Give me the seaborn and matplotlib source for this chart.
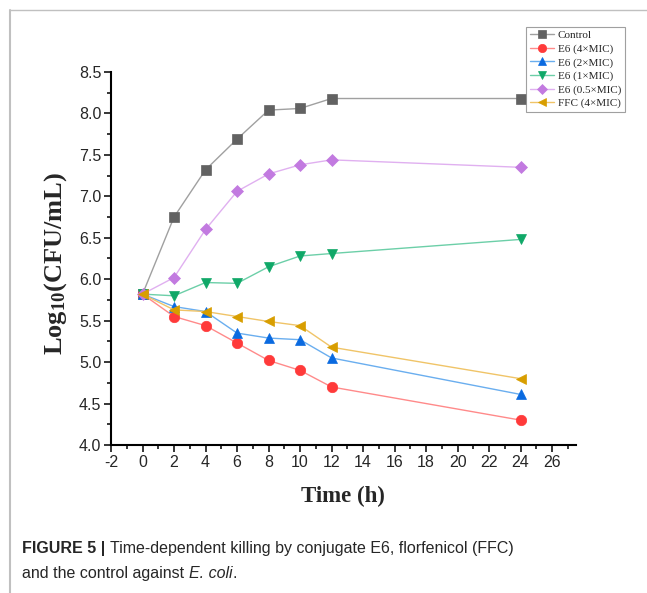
import numpy as np
import pandas as pd
import matplotlib
matplotlib.use("Agg")
import matplotlib.pyplot as plt
import seaborn as sns
from matplotlib.lines import Line2D
from matplotlib.ticker import MultipleLocator

# time points (h)
hours = [0, 2, 4, 6, 8, 10, 12, 24]

# log10 CFU/mL
control = [5.82, 6.75, 7.32, 7.69, 8.04, 8.06, 8.18, 8.18]
e6_4mic = [5.82, 5.55, 5.44, 5.23, 5.02, 4.90, 4.70, 4.30]
e6_2mic = [5.82, 5.67, 5.61, 5.35, 5.29, 5.27, 5.05, 4.61]
e6_1mic = [5.82, 5.80, 5.96, 5.95, 6.15, 6.28, 6.31, 6.48]
e6_05mic = [5.82, 6.02, 6.60, 7.06, 7.27, 7.38, 7.44, 7.35]
ffc_4mic = [5.82, 5.63, 5.61, 5.55, 5.49, 5.44, 5.18, 4.80]

labels = ["Control", "E6 (4×MIC)", "E6 (2×MIC)", "E6 (1×MIC)", "E6 (0.5×MIC)", "FFC (4×MIC)"]
series = [control, e6_4mic, e6_2mic, e6_1mic, e6_05mic, ffc_4mic]

# (marker colour, line colour, marker)
styles = [
    ("#626262", "#a0a0a0", "s"),
    ("#ff3a3a", "#ff8a8a", "o"),
    ("#0a6ae0", "#6aaeef", "^"),
    ("#10a868", "#6ccfa8", "v"),
    ("#c27ae0", "#e0b0f0", "D"),
    ("#d89e00", "#f0c468", "<"),
]
msizes = [6.5, 7.5, 7.5, 7.5, 6, 7.5]

sns.set_style("ticks")
plt.rcParams["axes.unicode_minus"] = False
plt.rcParams["mathtext.fontset"] = "custom"
plt.rcParams["mathtext.rm"] = "Liberation Serif"
plt.rcParams["mathtext.bf"] = "Liberation Serif:bold"
serif = ["Liberation Serif", "DejaVu Serif"]
sans = ["Liberation Sans", "DejaVu Sans"]

fig = plt.figure(figsize=(6.47, 5.93), dpi=100)
ax = fig.add_axes([0.1716, 0.2496, 0.7182, 0.629])

for lab, vals, (mc, lc, mk), ms in zip(labels, series, styles, msizes):
    sns.lineplot(x=hours, y=vals, ax=ax, color=lc, linewidth=1.0,
                 marker=mk, markersize=ms, markerfacecolor=mc,
                 markeredgecolor=mc, markeredgewidth=0.5, label=lab)

ax.set_xlim(-2, 27.5)
ax.set_ylim(4.0, 8.5)
ax.set_xticks(np.arange(-2, 27, 2))
ax.xaxis.set_minor_locator(MultipleLocator(1))
yt = np.arange(4.0, 8.51, 0.5)
ax.set_yticks(yt)
ax.set_yticklabels([f"{v:.1f}" for v in yt])
ax.yaxis.set_minor_locator(MultipleLocator(0.25))
ax.tick_params(which="major", direction="out", length=5, width=1.3, labelsize=11.5, pad=2)
ax.tick_params(which="minor", direction="out", length=3, width=1.3)
for lbl in ax.get_xticklabels() + ax.get_yticklabels():
    lbl.set_family(sans)

sns.despine(ax=ax)
for s in ["left", "bottom"]:
    ax.spines[s].set_linewidth(1.5)
    ax.spines[s].set_color("black")

ax.set_xlabel("Time (h)", fontsize=16.5, fontweight="bold", family=serif, va="center")
ax.xaxis.set_label_coords(0.5, -0.139)
ax.set_ylabel(r"$\mathbf{Log_{10}(CFU/mL)}$", fontsize=19, va="center")
ax.yaxis.set_label_coords(-0.12, 0.485)

ax.get_legend().remove()
handles, labs = ax.get_legend_handles_labels()
leg = fig.legend(handles, labs, loc="upper right", bbox_to_anchor=(0.966, 0.955),
                 prop={"family": serif, "size": 8}, frameon=True, fancybox=False,
                 edgecolor="#888888", handlelength=2.2, handletextpad=0.3,
                 labelspacing=0.32, borderpad=0.35, borderaxespad=0, markerscale=0.8)
leg.get_frame().set_linewidth(0.8)

# page frame lines
fig.add_artist(Line2D([0.016, 0.016], [0.0, 0.983], transform=fig.transFigure, color="#c0c0c0", linewidth=1.5))
fig.add_artist(Line2D([0.016, 1.0], [0.983, 0.983], transform=fig.transFigure, color="#c0c0c0", linewidth=1.0))

# caption, pieces placed one after another
renderer = fig.canvas.get_renderer()


def put_run(x, y, parts):
    for txt, kw in parts:
        t = fig.text(x, y, txt, fontsize=11.5, family=sans, va="baseline", **kw)
        bb = t.get_window_extent(renderer=renderer)
        x = fig.transFigure.inverted().transform((bb.x1, bb.y0))[0]


put_run(0.034, 0.068, [("FIGURE 5 | ", {"fontweight": "bold"}),
                       ("Time-dependent killing by conjugate E6, florfenicol (FFC)", {})])
put_run(0.034, 0.025, [("and the control against ", {}),
                       ("E. coli", {"style": "italic"}),
                       (".", {})])

fig.savefig("out.png", dpi=100)
